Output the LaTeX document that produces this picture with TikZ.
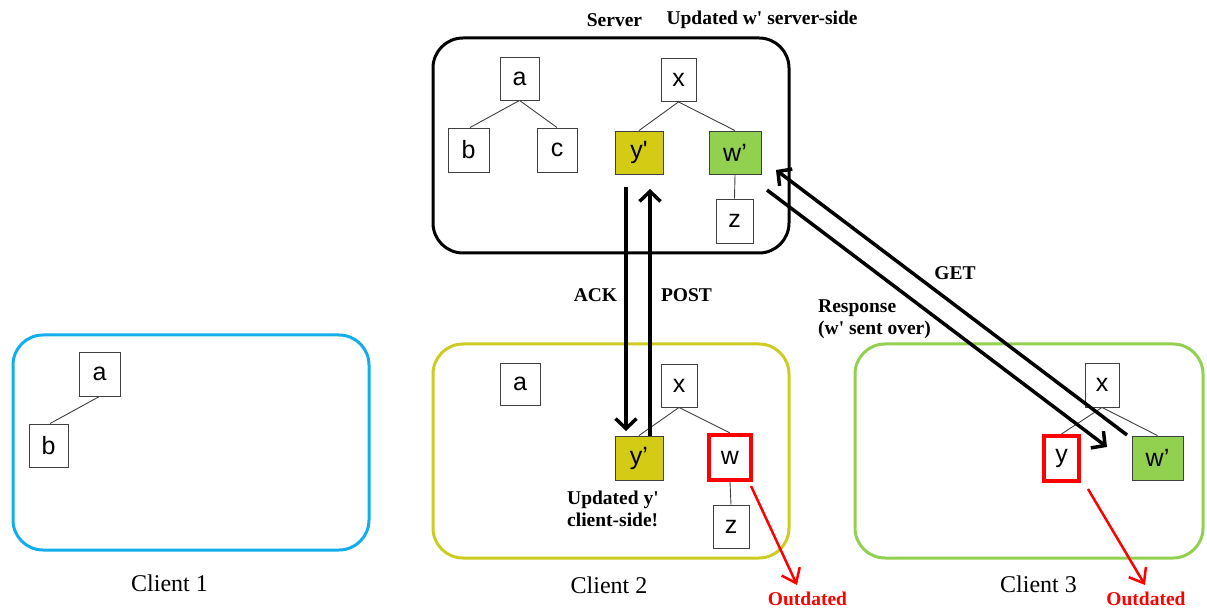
\documentclass[tikz,border=0pt]{standalone}
\usepackage{fontspec}
\setmainfont{Liberation Serif}
\newfontfamily\boxfont{Liberation Sans}
\usetikzlibrary{arrows.meta}
\definecolor{yfill}{HTML}{D4CC14}
\definecolor{yline}{HTML}{CCCC22}
\definecolor{gfill}{HTML}{92D050}
\definecolor{cyanline}{HTML}{12AEEB}
\begin{document}
\begin{tikzpicture}[x=1pt,y=-1pt,
  leaf/.style={draw=black!75, line width=0.9pt, fill=white, inner sep=0pt,
    minimum height=43pt, minimum width=40pt, font=\boxfont\fontsize{25}{25}\selectfont},
  stalebox/.style={draw=red, line width=4pt},
  tedge/.style={draw=black!75, line width=0.9pt},
  region/.style={draw, rounded corners=30pt, line width=3pt, inner sep=0pt,
    minimum width=356pt, minimum height=215pt},
  msg/.style={line width=3.5pt, -{Straight Barb[length=10pt,width=21pt]}},
  stale/.style={red, line width=2.5pt, -{Straight Barb[length=13pt,width=20pt]}},
  lab/.style={font=\bfseries\fontsize{19.5}{22}\selectfont, inner sep=0pt, align=left},
  caption/.style={font=\fontsize{24}{28}\selectfont, inner sep=0pt},
]
\useasboundingbox (0,0) rectangle (1207,609);

% regions
\node[region, draw=black] (server) at (611,145.5) {};
\node[region, draw=cyanline] (c1) at (191,442.5) {};
\node[region, draw=yline, minimum height=214pt] (c2) at (611,451) {};
\node[region, draw=gfill, minimum width=348pt, minimum height=214pt] (c3) at (1029,451) {};

% server trees
\node[leaf, minimum width=39pt] (sa) at (519.5,78.5) {a};
\node[leaf, minimum width=41pt, minimum height=44pt] (sb) at (468.5,150) {b};
\node[leaf, minimum width=40pt, minimum height=44pt] (sc) at (557,150) {c};
\node[leaf, minimum width=35pt] (sx) at (678.5,80) {x};
\node[leaf, fill=yfill, minimum width=48pt] (sy) at (639,152.5) {y'};
\node[leaf, fill=gfill, minimum width=52pt] (sw) at (735,152.5) {w’};
\node[leaf, minimum width=37pt, minimum height=44pt] (sz) at (734.5,221) {z};
\draw[tedge] (sa.south) -- ([xshift=1.5pt]sb.north);
\draw[tedge] (sa.south) -- (sc.north);
\draw[tedge] (sx.south) -- (sy.north);
\draw[tedge] (sx.south) -- (sw.north);
\draw[tedge] (sw.south) -- (sz.north);

% client 1
\node[leaf, minimum width=41pt, minimum height=44pt] (ca) at (99.5,374) {a};
\node[leaf, minimum width=39pt] (cb) at (48.5,445.5) {b};
\draw[tedge] (ca.south) -- ([xshift=1.5pt]cb.north);

% client 2
\node[leaf, minimum width=40pt, minimum height=42pt] (da) at (520,384) {a};
\node[leaf, minimum width=36pt] (dx) at (679,385.5) {x};
\node[leaf, fill=yfill, minimum width=48pt, minimum height=44pt] (dy) at (639,458) {y’};
\node[leaf, stalebox, minimum width=42pt, minimum height=45pt] (dw) at (730,457.5) {w};
\node[leaf, minimum width=36pt] (dz) at (731,526.5) {z};
\draw[tedge] (dx.south) -- (dy.north);
\draw[tedge] (dx.south) -- (dw.north);
\draw[tedge] (dw.south) -- (dz.north);

% client 3
\node[leaf, minimum width=34pt, minimum height=44pt] (ex) at (1102,385) {x};
\node[leaf, stalebox, minimum width=35pt, minimum height=45pt] (ey) at (1061.5,458.5) {y};
\node[leaf, fill=gfill, minimum width=51pt, minimum height=44pt] (ew) at (1157.5,458) {w’};
\draw[tedge] (ex.south) -- (ey.north);
\draw[tedge] (ex.south) -- (ew.north);

% message arrow end points
\coordinate (ackS) at (626,187);
\coordinate (ackE) at (626,431);
\coordinate (postS) at (650,436);
\coordinate (postE) at (650,189);
\coordinate (getS) at (1127,435);
\coordinate (getE) at (776,170);
\coordinate (resS) at (767,190);
\coordinate (resE) at (1107,447);
\coordinate (old2S) at (751,486);
\coordinate (old2E) at (797,585);
\coordinate (old3S) at (1088,489);
\coordinate (old3E) at (1145,585);

\draw[msg] (ackS) -- (ackE);
\draw[msg] (postS) -- (postE);
\draw[msg] (getS) -- (getE);
\draw[msg] (resS) -- (resE);
\draw[stale] (old2S) -- (old2E);
\draw[stale] (old3S) -- (old3E);

% labels
\node[lab] (lserver) at (614.5,20) {Server};
\node[lab] (lupdw) at (762,20) {Updated w\textquotesingle{} server-side};
\node[lab] (lack) at (595.5,295) {ACK};
\node[lab] (lpost) at (686.5,295) {POST};
\node[lab] (lget) at (955,273) {GET};
\node[lab, anchor=west] (lres) at (818,319) {Response\\(w\textquotesingle{} sent over)};
\node[lab, anchor=west] (lupdy) at (567,509) {Updated y\textquotesingle\\client-side!};
\node[lab, text=red] (lold2) at (807.5,598.5) {Outdated};
\node[lab, text=red] (lold3) at (1146,598.5) {Outdated};
\node[caption] (lc1) at (169.5,583) {Client 1};
\node[caption] (lc2) at (609,585) {Client 2};
\node[caption] (lc3) at (1038.5,584) {Client 3};
\end{tikzpicture}
\end{document}
